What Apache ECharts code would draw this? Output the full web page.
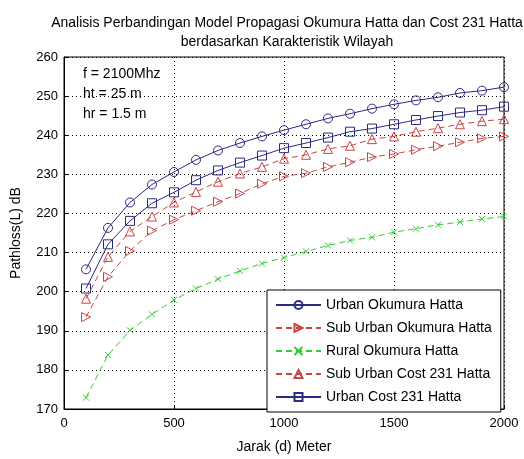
<!DOCTYPE html>
<html>
<head>
<meta charset="utf-8">
<script src="https://cdn.jsdelivr.net/npm/echarts@6/dist/echarts.min.js"></script>
<style>html,body{margin:0;padding:0;background:#fff;}#c{width:524px;height:459px;}</style>
</head>
<body>
<div id="c"></div>
<script>
const distances = [100,200,300,400,500,600,700,800,900,1000,1100,1200,1300,1400,1500,1600,1700,1800,1900,2000];
const urbanOkumura = [205.7,216.3,222.8,227.4,230.6,233.7,236.1,238.0,239.7,241.3,242.8,244.3,245.5,246.8,247.9,248.9,249.7,250.8,251.4,252.3];
const subUrbanOkumura = [193.5,203.8,210.4,215.6,218.4,220.7,223.0,225.1,227.6,229.5,230.3,231.9,233.1,234.4,235.2,236.3,237.2,238.2,239.2,239.7];
const ruralOkumura = [172.9,183.8,190.1,194.2,197.9,200.8,203.2,205.3,207.2,208.7,210.3,211.8,213.1,213.9,215.2,216.1,217.1,217.8,218.6,219.2];
const subUrbanCost = [198.2,208.9,215.4,219.2,222.8,225.5,228.1,230.2,231.9,234.0,235.0,236.5,237.3,239.0,239.7,240.9,241.8,242.8,243.6,244.1];
const urbanCost = [200.8,212.1,218.1,222.6,225.4,228.5,231.0,233.0,234.8,236.7,238.0,239.4,240.9,241.7,242.8,243.9,244.9,245.8,246.4,247.3];
const xTicks = [0,500,1000,1500,2000];
const yTicks = [170,180,190,200,210,220,230,240,250,260];
const seriesNames = ['Urban Okumura Hatta','Sub Urban Okumura Hatta','Rural Okumura Hatta','Sub Urban Cost 231 Hatta','Urban Cost 231 Hatta'];
const notes = ['f = 2100Mhz','ht = 25 m','hr = 1.5 m'];

const FONT = 'Liberation Sans, Arial, sans-serif';
const BLUE = '#2b2b80', RED = '#cc4444', GREEN = '#33cc33';
const pairs = arr => arr.map((v,i)=>[distances[i], v]);

function mkSeries(name, data, color, symbol, size, dashed){
  return {
    name, type:'line', data:pairs(data), symbol, symbolSize:size,
    lineStyle:{color, width:1, type: dashed ? [6,4] : 'solid'},
    itemStyle:{color:'rgba(255,255,255,0)', borderColor:color, borderWidth:1},
    emphasis:{disabled:true}, animation:false, z:3
  };
}

const chart = echarts.init(document.getElementById('c'), null, {renderer:'canvas'});
chart.setOption({
  backgroundColor:'#fff',
  animation:false,
  title:{
    text:'Analisis Perbandingan Model Propagasi Okumura Hatta dan Cost 231 Hatta\nberdasarkan Karakteristik Wilayah',
    left:282, top:9, textAlign:'center',
    textStyle:{fontFamily:FONT, fontSize:14, fontWeight:'normal', color:'#000', lineHeight:19}
  },
  grid:{left:64, right:20, top:57, bottom:46, show:true, borderColor:'#000', borderWidth:1, backgroundColor:'#fff'},
  xAxis:{
    type:'value', min:0, max:2000, interval:500,
    name:'Jarak (d) Meter', nameLocation:'middle', nameGap:31,
    nameTextStyle:{fontFamily:FONT, fontSize:14, color:'#000'},
    axisLine:{show:true, lineStyle:{color:'#000'}},
    axisTick:{show:true, inside:true, length:4, lineStyle:{color:'#000'}},
    axisLabel:{fontFamily:FONT, fontSize:13, color:'#000', margin:8, formatter: v => String(v)},
    splitLine:{show:true, lineStyle:{color:'#000', type:[1,3], width:1}}
  },
  yAxis:{
    type:'value', min:170, max:260, interval:10,
    name:'Pathloss(L) dB', nameLocation:'middle', nameGap:41,
    nameTextStyle:{fontFamily:FONT, fontSize:14, color:'#000'},
    axisLine:{show:true, lineStyle:{color:'#000'}},
    axisTick:{show:true, inside:true, length:4, lineStyle:{color:'#000'}},
    axisLabel:{fontFamily:FONT, fontSize:13, color:'#000', margin:6, formatter: v => String(v)},
    splitLine:{show:true, lineStyle:{color:'#000', type:[1,3], width:1}}
  },
  legend:{
    orient:'vertical', left:267, top:290,
    backgroundColor:'#fff', borderColor:'#000', borderWidth:1,
    padding:[8,9,8,8], itemGap:9, itemWidth:45, itemHeight:10,
    textStyle:{fontFamily:FONT, fontSize:14, lineHeight:14, color:'#000'},
    data: seriesNames
  },
  graphic: notes.map((t,i)=>({
    type:'text', left:83, top:67 + i*20, z:10,
    style:{text:t, fontFamily:FONT, fontSize:14, fill:'#000'}
  })),
  series:[
    mkSeries(seriesNames[0], urbanOkumura, BLUE, 'circle', 9, false),
    mkSeries(seriesNames[1], subUrbanOkumura, RED, 'path://M0,0L10,5L0,10Z', 9, true),
    mkSeries(seriesNames[2], ruralOkumura, GREEN, 'path://M0,0L10,10M10,0L0,10', 6, true),
    mkSeries(seriesNames[3], subUrbanCost, RED, 'triangle', 9, true),
    mkSeries(seriesNames[4], urbanCost, BLUE, 'rect', 9, false)
  ]
});
</script>
</body>
</html>
